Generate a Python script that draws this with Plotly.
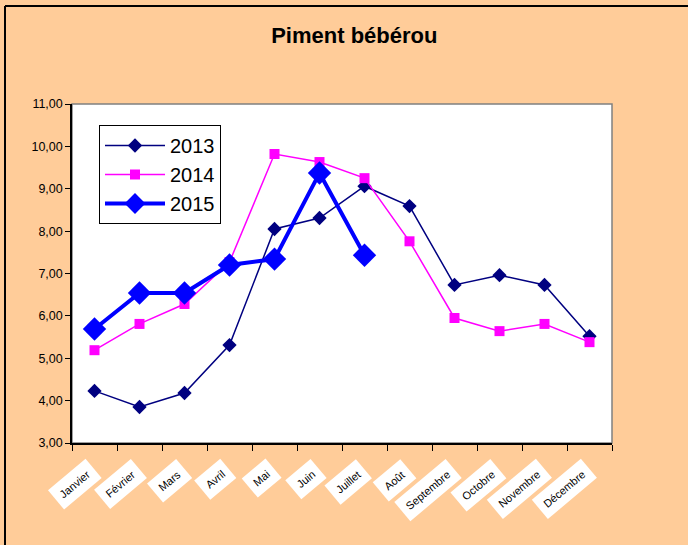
import plotly.graph_objects as go

months = ["Janvier", "Février", "Mars", "Avril", "Mai", "Juin", "Juillet",
          "Août", "Septembre", "Octobre", "Novembre", "Décembre"]
v2013 = [4.23, 3.85, 4.18, 5.31, 8.05, 8.31, 9.06, 8.59, 6.73, 6.96, 6.73, 5.52]
v2014 = [5.19, 5.81, 6.28, 7.27, 9.82, 9.63, 9.25, 7.76, 5.95, 5.64, 5.81, 5.38]
v2015 = [5.69, 6.54, 6.54, 7.20, 7.34, 9.37, 7.43, None, None, None, None, None]
yticks = [3, 4, 5, 6, 7, 8, 9, 10, 11]

xs = list(range(len(months)))

fig = go.Figure()
fig.add_trace(go.Scatter(x=xs, y=v2013, name="2013", mode="lines+markers",
                         line=dict(color="#000080", width=1.5),
                         marker=dict(symbol="diamond", size=11, color="#000080")))
fig.add_trace(go.Scatter(x=xs, y=v2014, name="2014", mode="lines+markers",
                         line=dict(color="#FF00FF", width=1.5),
                         marker=dict(symbol="square", size=10, color="#FF00FF")))
fig.add_trace(go.Scatter(x=xs, y=v2015, name="2015", mode="lines+markers",
                         line=dict(color="#0000FF", width=4),
                         marker=dict(symbol="diamond", size=18, color="#0000FF")))

# month labels as rotated white-boxed annotations
for i, m in enumerate(months):
    fig.add_annotation(x=i, y=-0.045, xref="x", yref="paper", text=m,
                       showarrow=False, textangle=-40, xanchor="right", yanchor="top",
                       xshift=8, bgcolor="white", borderpad=6,
                       font=dict(family="Arial", size=11, color="black"))

W, H = 688, 545
L, R, T, B = 72, 76, 104, 102
pw, ph = W - L - R, H - T - B

fig.update_layout(
    width=W, height=H,
    paper_bgcolor="#FFCC99", plot_bgcolor="white",
    margin=dict(l=L, r=R, t=T, b=B),
    title=dict(text="<b>Piment bébérou</b>", x=0.515, xanchor="center", y=0.935,
               yanchor="middle", font=dict(family="Arial", size=22, color="black")),
    separators=", ",
    showlegend=True,
    legend=dict(x=(99 - L) / pw, y=(H - B - 125) / ph, xanchor="left", yanchor="top",
                bgcolor="white", bordercolor="black", borderwidth=1,
                font=dict(family="Arial", size=20, color="black"),
                tracegroupgap=0, itemwidth=60),
    xaxis=dict(range=[-0.5, 11.5], tickmode="array",
               tickvals=[i - 0.5 for i in range(13)], showticklabels=False,
               ticks="outside", ticklen=6, tickcolor="black",
               showline=True, linecolor="black", linewidth=1.5,
               showgrid=False, zeroline=False, fixedrange=True),
    yaxis=dict(range=[3, 11], tickmode="array", tickvals=yticks,
               tickformat=".2f", ticks="outside", ticklen=5, tickcolor="black",
               showline=True, linecolor="black", linewidth=1.5,
               showgrid=False, zeroline=False,
               tickfont=dict(family="Arial", size=12.5, color="black")),
    shapes=[
        dict(type="rect", xref="paper", yref="paper", x0=0, x1=1, y0=0, y1=1,
             line=dict(color="#808080", width=1.5), layer="below"),
        dict(type="line", xref="paper", yref="paper",
             x0=(5 - L) / pw, x1=(W - L) / pw + 0.1, y0=(H - 6 - B) / ph, y1=(H - 6 - B) / ph,
             line=dict(color="black", width=2)),
        dict(type="line", xref="paper", yref="paper",
             x0=(5 - L) / pw, x1=(5 - L) / pw, y0=(H - 6 - B) / ph, y1=-B / ph - 0.1,
             line=dict(color="black", width=2)),
    ],
)

fig.write_html("out.html", config={"displayModeBar": False},
               post_script="document.body.style.margin='0';")
